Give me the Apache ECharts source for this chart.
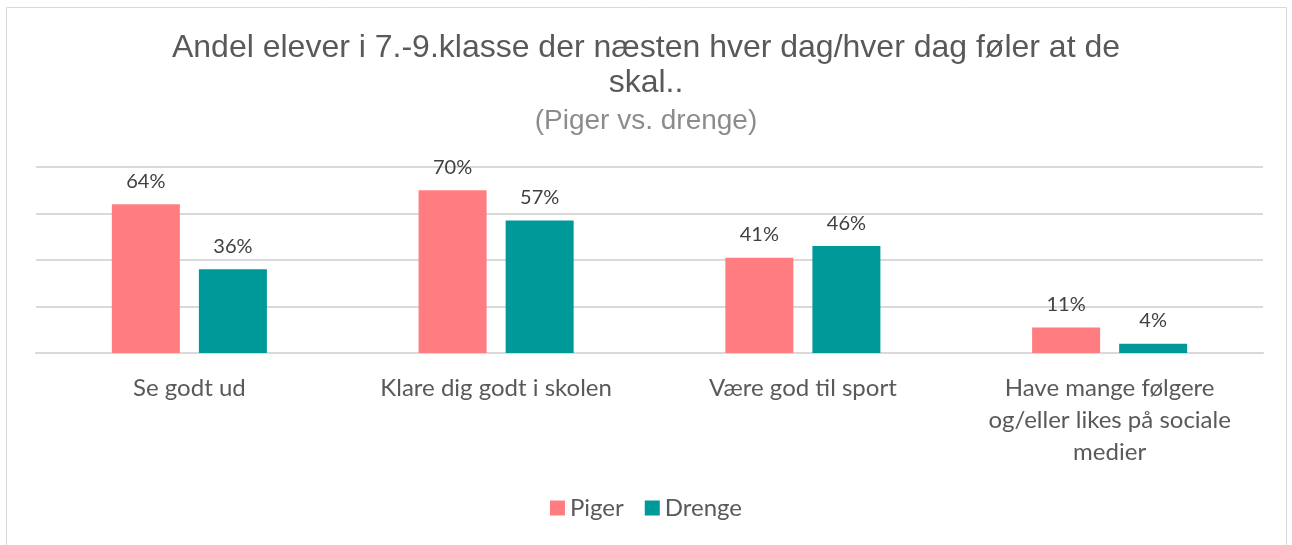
<!DOCTYPE html>
<html>
<head>
    <meta charset="utf-8">
    <title>Andel elever</title>
    <script src="https://cdn.jsdelivr.net/npm/echarts@6/dist/echarts.min.js"></script>
    <style>
        html, body { margin: 0; padding: 0; background: #fff; }
        #main { width: 1292px; height: 545px; }
    </style>
</head>
<body>
<div id="main"></div>
<script type="text/javascript">
    // data
    var categories = ['Se godt ud', 'Klare dig godt i skolen', 'Være god til sport', 'Have mange følgere\nog/eller likes på sociale\nmedier'];
    var piger = [64, 70, 41, 11];
    var drenge = [36, 57, 46, 4];
    var yTicks = [0, 20, 40, 60, 80];

    var labelStyle = {
        show: true,
        position: 'top',
        distance: 13,
        formatter: '{c}%',
        color: '#404040',
        fontFamily: 'Lato',
        fontSize: 20
    };

    var myChart = echarts.init(document.getElementById('main'));
    myChart.setOption({
        animation: false,
        title: {
            text: 'Andel elever i 7.-9.klasse der næsten hver dag/hver dag føler at de\nskal..',
            subtext: '(Piger vs. drenge)',
            left: 'center',
            top: 26,
            itemGap: 5,
            textStyle: { fontFamily: 'Liberation Sans', fontSize: 32, fontWeight: 'normal', color: '#595959', lineHeight: 35 },
            subtextStyle: { fontFamily: 'Liberation Sans', fontSize: 28, color: '#8c8c8c', lineHeight: 30 }
        },
        graphic: [{
            type: 'rect',
            shape: { x: 6.5, y: 7.5, width: 1280, height: 560 },
            style: { fill: 'none', stroke: '#d9d9d9', lineWidth: 1 },
            silent: true
        }],
        legend: {
            bottom: 20,
            left: 'center',
            itemWidth: 15,
            itemHeight: 15,
            itemGap: 21,
            icon: 'rect',
            textStyle: { fontFamily: 'Lato', fontSize: 24, color: '#595959' },
            data: ['Piger', 'Drenge']
        },
        grid: { left: 36, right: 29, top: 167, bottom: 192, containLabel: false },
        xAxis: {
            type: 'category',
            data: categories,
            axisLine: { lineStyle: { color: '#d9d9d9', width: 2 } },
            axisTick: { show: false },
            axisLabel: {
                interval: 0,
                margin: 19,
                lineHeight: 32,
                color: '#595959',
                fontFamily: 'Lato',
                fontSize: 24
            }
        },
        yAxis: {
            type: 'value',
            min: yTicks[0],
            max: yTicks[yTicks.length - 1],
            interval: 20,
            axisLabel: { show: false },
            axisLine: { show: false },
            axisTick: { show: false },
            splitLine: { lineStyle: { color: '#d9d9d9', width: 2 } }
        },
        series: [{
            name: 'Piger',
            type: 'bar',
            data: piger,
            barWidth: 68,
            barGap: '28%',
            itemStyle: { color: '#FF7C80' },
            label: labelStyle
        }, {
            name: 'Drenge',
            type: 'bar',
            data: drenge,
            barWidth: 68,
            itemStyle: { color: '#009999' },
            label: labelStyle
        }]
    });
</script>
</body>
</html>
